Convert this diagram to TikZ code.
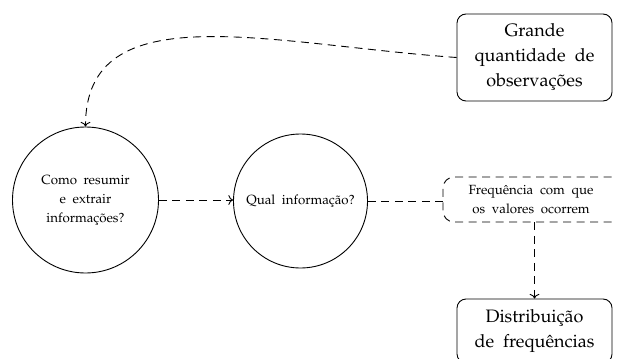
\documentclass[tikz,border=0pt]{standalone}
\usepackage[T1]{fontenc}
\usepackage{mathpazo}
\usetikzlibrary{arrows.meta}

% text sizes with wide word spacing (set on the font itself, so every line keeps it)
\newcommand\notefont{\fontsize{13.3}{19}\selectfont\fontdimen2\font=0.5em\relax}
\newcommand\boxfont{\fontsize{18}{25}\selectfont\fontdimen2\font=0.5em\relax}

\tikzset{
  every picture/.style={line width=0.9pt},
  question/.style={circle, draw, align=center, inner sep=0pt, font=\notefont},
  infobox/.style={rectangle, draw, rounded corners=9pt, align=center, font=\boxfont},
  notebox/.style={rectangle, draw, dash pattern=on 8pt off 5.5pt,
                  rounded corners=11pt, align=center, font=\notefont},
  link/.style={dash pattern=on 8pt off 5.5pt},
  flow/.style={link, -{To[scale=1.3]}}
}

\begin{document}
\begin{tikzpicture}[x=1pt, y=-1pt]
  \useasboundingbox (0,0) rectangle (617,358);
  \clip (0,0) rectangle (617,358);

  % boxes and questions
  \node[infobox, minimum width=155pt, minimum height=87pt] (grande) at (534.5,57.5)
    {Grande\\quantidade de\\observações};
  \node[question, minimum size=146pt] (como) at (85.5,200)
    {Como resumir\\e extrair\\informações?};
  \node[question, minimum size=134pt] (qual) at (300.5,201)
    {Qual informação?};
  % wide box running past the right edge; the kerns keep the text left of its centre
  \node[notebox, minimum width=193pt, minimum height=45pt] (freq) at (539.5,199.5)
    {Frequência com que\kern17pt\\os valores ocorrem\kern17pt};
  \node[infobox, minimum width=155pt, minimum height=64pt] (dist) at (534.5,331)
    {Distribuição\\de frequências};

  % connectors
  \draw[flow] (grande.west) .. controls (268,44) and (85.5,-7) .. (como.north);
  \draw[flow] (como.east) -- (qual.west |- como.east);
  \draw[link] (qual.east) -- (freq.west |- qual.east);
  \draw[flow] (freq.south -| dist.north) -- (dist.north);
\end{tikzpicture}
\end{document}
